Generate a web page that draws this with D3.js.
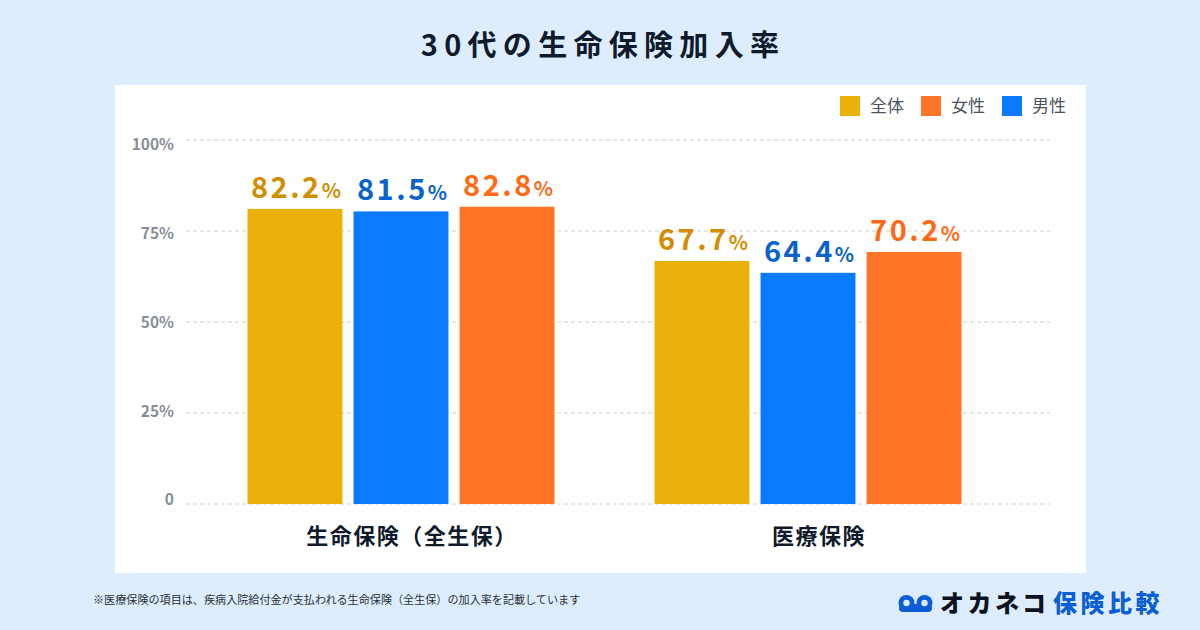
<!DOCTYPE html>
<html><head><meta charset="utf-8">
<script src="https://cdn.jsdelivr.net/npm/d3@7"></script>
<style>
html,body{margin:0;padding:0;background:#deedfd;}
svg{display:block;}
text{font-family:"Noto Sans CJK JP","Noto Sans",sans-serif;}
</style></head>
<body>
<svg id="chart" width="1200" height="630"></svg>
<script>
const title = "30代の生命保険加入率";
const categories = ["生命保険（全生保）", "医療保険"];
const seriesNames = ["全体", "男性", "女性"];
const legendOrder = ["全体", "女性", "男性"];
const seriesColors = ["#ebb00a", "#087bff", "#ff7427"];
const labelColors = ["#d18e02", "#0b62ca", "#ff6a17"];
const valuesAll = [82.2, 67.7];
const valuesMale = [81.5, 64.4];
const valuesFemale = [82.8, 70.2];
const tickValues = [0, 25, 50, 75, 100];
const tickLabels = ["0", "25%", "50%", "75%", "100%"];
const footnote = "※医療保険の項目は、疾病入院給付金が支払われる生命保険（全生保）の加入率を記載しています";

const series = [valuesAll, valuesMale, valuesFemale];
const colorOf = d3.scaleOrdinal().domain(seriesNames).range(seriesColors);

const svg = d3.select("#chart");
svg.append("rect").attr("width",1200).attr("height",630).attr("fill","#deedfd");
svg.append("rect").attr("x",115).attr("y",85).attr("width",971).attr("height",488).attr("fill","#ffffff");

// title
svg.append("text").attr("x",603).attr("y",56).attr("text-anchor","middle")
  .attr("font-size",29).attr("font-weight",700).attr("letter-spacing","6.3px")
  .attr("fill","#0f1a2a").text(title);

// scales
const yGrid = d3.scaleLinear().domain([0,100]).range([504,140]);
const yLabel = d3.scaleLinear().domain([0,100]).range([500,145]);
const yBar = d3.scaleLinear().domain([0,100]).range([504,145]);
const x0 = d3.scaleBand().domain(categories).range([197.5,1011.5]).padding(0);
const x1 = d3.scaleBand().domain(seriesNames).range([-153.5,153.5]).paddingInner(0.105);

// gridlines
svg.append("g").selectAll("line").data(tickValues).join("line")
  .attr("x1",186).attr("x2",1050)
  .attr("y1",d=>yGrid(d)).attr("y2",d=>yGrid(d))
  .attr("stroke","#e1e1e1").attr("stroke-width",1.6).attr("stroke-dasharray","4,3");

// y labels
svg.append("g").selectAll("text").data(tickValues).join("text")
  .attr("x",174).attr("y",d=>yLabel(d)).attr("dy","0.35em")
  .attr("text-anchor","end").attr("font-size",15.5).attr("font-weight",700)
  .attr("fill","#878e97").text((d,i)=>tickLabels[i]);

// bars
const groups = svg.append("g").selectAll("g").data(categories).join("g")
  .attr("transform",d=>`translate(${x0(d)+x0.bandwidth()/2},0)`);

groups.each(function(cat, ci){
  const g = d3.select(this);
  const data = seriesNames.map((s,si)=>({s, si, v: series[si][ci]}));
  g.selectAll("rect").data(data).join("rect")
    .attr("x",d=>x1(d.s)).attr("width",x1.bandwidth())
    .attr("y",d=>yBar(d.v)).attr("height",d=>yBar(0)-yBar(d.v))
    .attr("fill",d=>colorOf(d.s));
  const t = g.selectAll("text").data(data).join("text")
    .attr("x",d=>x1(d.s)+x1.bandwidth()/2+1)
    .attr("y",d=>yBar(d.v)-11)
    .attr("text-anchor","middle")
    .attr("font-family","'Noto Sans', sans-serif")
    .attr("font-weight",700)
    .attr("fill",d=>labelColors[d.si]);
  t.append("tspan").attr("font-size",29).attr("letter-spacing","2.5px").text(d=>d.v.toFixed(1));
  t.append("tspan").attr("font-size",20).attr("dx",0).text("%");
});

// category labels
svg.append("g").selectAll("text").data(categories).join("text")
  .attr("x",d=>x0(d)+x0.bandwidth()/2+11).attr("y",544)
  .attr("text-anchor","middle").attr("font-size",22).attr("font-weight",700)
  .attr("letter-spacing","1.5px")
  .attr("fill","#0f1a2a").text(d=>d);

// legend
const legendX = [840, 921, 1002];
const lg = svg.append("g").selectAll("g").data(legendOrder).join("g")
  .attr("transform",(d,i)=>`translate(${legendX[i]},96)`);
lg.append("rect").attr("width",20).attr("height",20).attr("fill",d=>colorOf(d));
lg.append("text").attr("x",30).attr("y",10).attr("dy","0.36em")
  .attr("font-size",17).attr("fill","#4b5360").text(d=>d);

// footnote
svg.append("text").attr("x",93).attr("y",604).attr("font-size",11.1)
  .attr("fill","#2a2f38").text(footnote);

// logo
const logo = svg.append("g");
logo.append("rect").attr("x",899).attr("y",604).attr("width",33).attr("height",8).attr("rx",4).attr("fill","#0b5fd3");
logo.append("circle").attr("cx",906.5).attr("cy",603).attr("r",8).attr("fill","#0b5fd3");
logo.append("circle").attr("cx",924.5).attr("cy",603).attr("r",8).attr("fill","#0b5fd3");
logo.append("circle").attr("cx",906.5).attr("cy",603).attr("r",3.2).attr("fill","#deedfd");
logo.append("circle").attr("cx",924.5).attr("cy",603).attr("r",3.2).attr("fill","#deedfd");
logo.append("text").attr("x",940).attr("y",612).attr("font-size",24).attr("font-weight",900)
  .attr("letter-spacing","3.5px").attr("fill","#0c1320").text("オカネコ");
logo.append("text").attr("x",1053).attr("y",612).attr("font-size",24).attr("font-weight",900)
  .attr("letter-spacing","3.5px").attr("fill","#0b5fd3").text("保険比較");
</script>
</body></html>
